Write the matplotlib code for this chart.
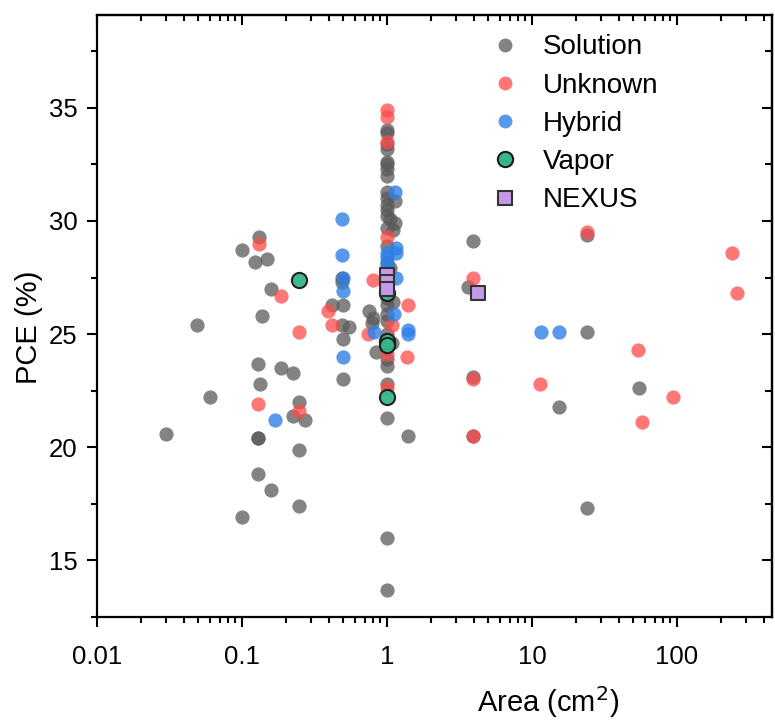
import matplotlib
matplotlib.use("Agg")
import matplotlib.pyplot as plt
from matplotlib.ticker import MultipleLocator, LogLocator, FixedLocator, FixedFormatter, NullFormatter
from matplotlib.lines import Line2D

plt.rcParams['font.family'] = ['Liberation Sans', 'DejaVu Sans']

# ---- data (Area in cm^2, PCE in %) ----
sol_x = [0.030, 0.049, 0.060, 0.100, 0.100, 0.123, 0.128, 0.128, 0.128, 0.128, 0.131, 0.133,
         0.137, 0.149, 0.158, 0.158, 0.186, 0.225, 0.225, 0.247, 0.247, 0.247, 0.27,
         0.42, 0.49, 0.49, 0.50, 0.49, 0.55, 0.50, 0.50, 0.75, 0.80, 0.79, 0.84,
         1, 1, 1, 1, 1, 1, 1, 1, 1, 1, 1, 1, 1, 1, 1, 1, 1, 1, 1, 1, 1, 1, 1, 1, 1, 1, 1, 1, 1,
         1.05, 1.05, 1.10, 1.10, 1.13, 1.13, 1.08,
         1.4, 3.6, 3.9, 3.9, 3.9, 15.4, 24, 24, 24, 54.5]
sol_y = [20.6, 25.4, 22.2, 28.7, 16.9, 28.2, 23.7, 20.4, 20.4, 18.8, 29.3, 22.8,
         25.8, 28.3, 27.0, 18.1, 23.5, 23.3, 21.4, 22.0, 19.9, 17.4, 21.2,
         26.3, 27.5, 27.3, 26.3, 25.4, 25.3, 24.8, 23.0, 26.0, 25.7, 25.5, 24.2,
         34.0, 33.9, 33.4, 33.2, 32.6, 32.5, 32.3, 32.0, 31.3, 31.0, 30.7, 30.5, 30.2, 29.7,
         28.9, 28.2, 27.8, 26.6, 26.3, 25.9, 25.6, 25.0, 24.4, 23.9, 23.6, 22.8, 21.3, 16.0, 13.7,
         30.1, 27.9, 29.6, 26.4, 30.9, 29.9, 24.6,
         20.5, 27.1, 29.1, 23.1, 20.5, 21.8, 25.1, 29.4, 17.3, 22.6]

unk_x = [0.131, 0.128, 0.186, 0.247, 0.247, 0.39, 0.42, 0.74, 0.80,
         1, 1, 1, 1, 1, 1, 1.08, 1.4, 1.37, 3.9, 3.9, 3.9, 11.3, 24, 53.8, 57.4, 93.8, 239, 259]
unk_y = [29.0, 21.9, 26.7, 25.1, 21.6, 26.0, 25.4, 25.0, 27.4,
         34.9, 34.6, 33.5, 29.3, 24.1, 22.6, 25.4, 26.3, 24.0, 27.5, 23.0, 20.5, 22.8, 29.5,
         24.3, 21.1, 22.2, 28.6, 26.8]

hyb_x = [0.169, 0.49, 0.49, 0.50, 0.50, 0.50, 0.81, 1, 1, 1, 1, 1.13, 1.16, 1.16, 1.16,
         1.12, 1.4, 1.4, 11.5, 15.4]
hyb_y = [21.2, 30.1, 28.5, 27.5, 26.9, 24.0, 25.1, 28.6, 28.4, 28.1, 27.9, 31.3, 28.8, 28.6,
         27.5, 25.9, 25.2, 25.0, 25.1, 25.1]

vap_x = [0.247, 1, 1, 1, 1]
vap_y = [27.4, 26.8, 24.7, 24.5, 22.2]

nex_x = [1, 1, 1, 4.25]
nex_y = [27.6, 27.3, 27.0, 26.8]

labels = ["Solution", "Unknown", "Hybrid", "Vapor", "NEXUS"]
xticks = [0.01, 0.1, 1, 10, 100]
xticklabels = ["0.01", "0.1", "1", "10", "100"]

# ---- figure ----
fig = plt.figure(figsize=(7.75, 7.25), dpi=100)
ax = fig.add_axes([97/775, 1-617/725, (772-97)/775, (617-15)/725])

c_sol = "#5a5a5a"
c_unk = "#ff4a4a"
c_hyb = "#2f80e6"
c_vap = "#35b58a"
c_nex = "#c49ae6"

ax.scatter(sol_x, sol_y, s=105, color=c_sol, alpha=0.75, lw=0, zorder=2)
ax.scatter(unk_x, unk_y, s=105, color=c_unk, alpha=0.75, lw=0, zorder=3)
ax.scatter(hyb_x, hyb_y, s=105, color=c_hyb, alpha=0.8, lw=0, zorder=4)
ax.scatter(vap_x, vap_y, s=120, color=c_vap, edgecolor="#1a1a1a", lw=1.5, alpha=0.95, zorder=5)
ax.scatter(nex_x, nex_y, s=110, marker="s", color=c_nex, edgecolor="#333333", lw=1.5, zorder=6)

ax.set_xscale("log")
ax.set_xlim(0.01, 452)
ax.set_ylim(12.5, 39.1)

ax.xaxis.set_major_locator(FixedLocator(xticks))
ax.xaxis.set_major_formatter(FixedFormatter(xticklabels))
ax.xaxis.set_minor_locator(LogLocator(base=10, subs=range(2, 10), numticks=20))
ax.xaxis.set_minor_formatter(NullFormatter())
ax.yaxis.set_major_locator(MultipleLocator(5))
ax.yaxis.set_minor_locator(MultipleLocator(2.5))

for sp in ax.spines.values():
    sp.set_linewidth(1.6)

ax.tick_params(which="major", direction="out", length=7, width=1.5, labelsize=18.5)
ax.tick_params(axis="x", which="major", pad=13)
ax.tick_params(axis="y", which="major", pad=7)
ax.tick_params(which="minor", direction="out", length=4, width=1.5)

# mirrored ticks (inward) on top and right
top = ax.secondary_xaxis("top")
top.xaxis.set_major_locator(FixedLocator(xticks))
top.xaxis.set_minor_locator(LogLocator(base=10, subs=range(2, 10), numticks=20))
top.tick_params(which="major", direction="in", length=7, width=1.5, labeltop=False)
top.tick_params(which="minor", direction="in", length=4, width=1.5)
top.xaxis.set_major_formatter(NullFormatter())
top.xaxis.set_minor_formatter(NullFormatter())
top.spines["top"].set_linewidth(1.6)

right = ax.secondary_yaxis("right")
right.yaxis.set_major_locator(MultipleLocator(5))
right.yaxis.set_minor_locator(MultipleLocator(2.5))
right.tick_params(which="major", direction="in", length=7, width=1.5, labelright=False)
right.tick_params(which="minor", direction="in", length=5, width=1.5)
right.spines["right"].set_linewidth(1.6)

ax.set_xlabel("Area (cm$^2$)", fontsize=21)
ax.set_ylabel("PCE (%)", fontsize=21)
ax.xaxis.set_label_coords((548 - 97) / 675, -(684 - 617) / 602)
ax.yaxis.set_label_coords(-(97 - 43) / 675, (617 - 327) / 602)

handles = [
    Line2D([], [], ls="", marker="o", ms=10, mfc=c_sol, mec="none", alpha=0.75),
    Line2D([], [], ls="", marker="o", ms=10, mfc=c_unk, mec="none", alpha=0.75),
    Line2D([], [], ls="", marker="o", ms=10, mfc=c_hyb, mec="none", alpha=0.8),
    Line2D([], [], ls="", marker="o", ms=11, mfc=c_vap, mec="#1a1a1a", mew=1.5),
    Line2D([], [], ls="", marker="s", ms=10, mfc=c_nex, mec="#333333", mew=1.5),
]
ax.legend(handles, labels, loc="upper left", bbox_to_anchor=(0.545, 1.0), frameon=False,
          fontsize=20, handletextpad=0.6, labelspacing=0.44, handlelength=1.5, borderaxespad=0.3)

fig.savefig("out.png", dpi=100)
